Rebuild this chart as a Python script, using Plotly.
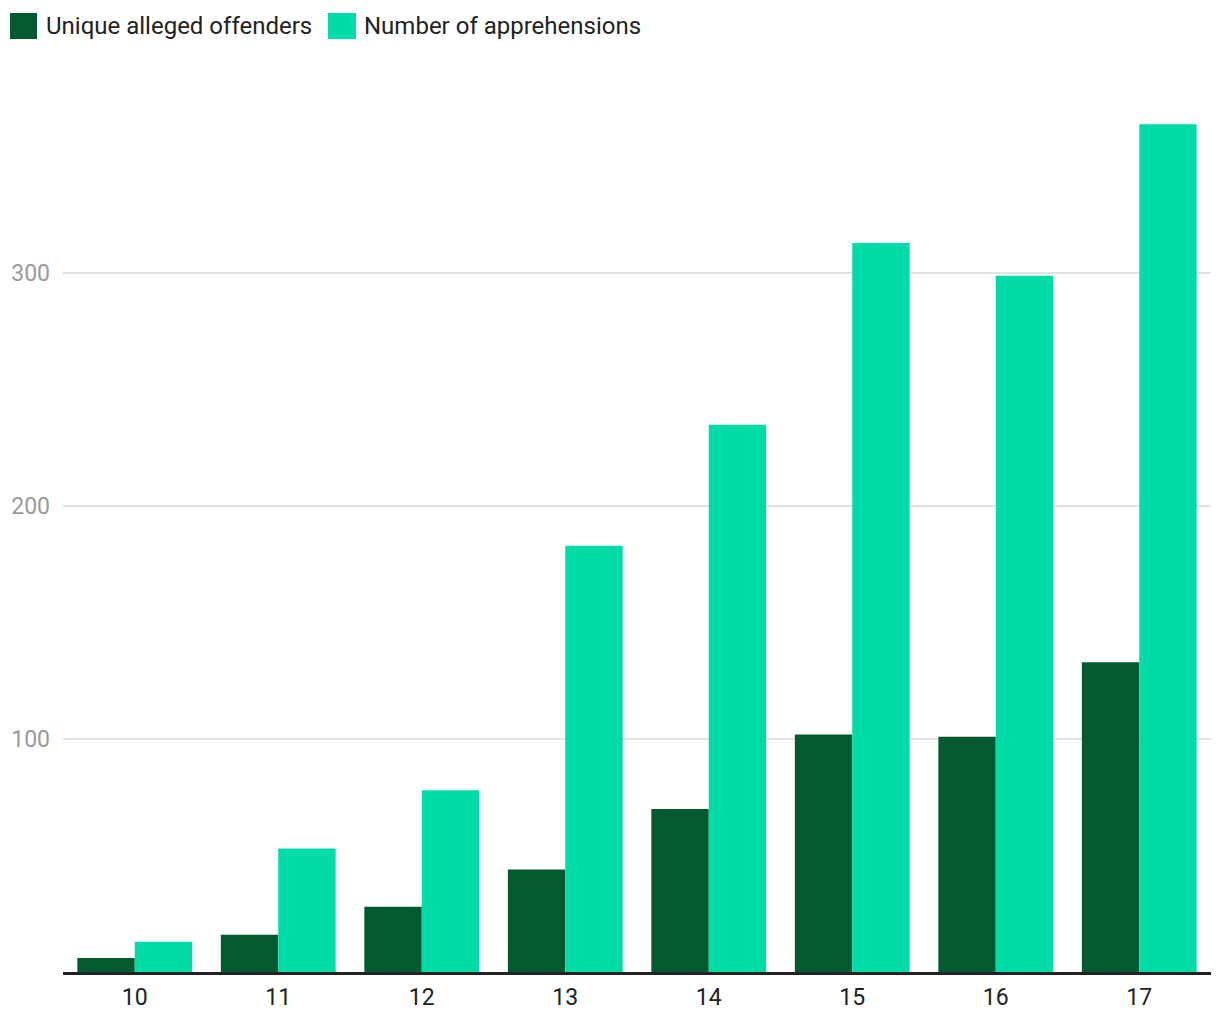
import plotly.graph_objects as go

# Ages and counts
ages = ["10", "11", "12", "13", "14", "15", "16", "17"]
offenders = [6, 16, 28, 44, 70, 102, 101, 133]
apprehensions = [13, 53, 78, 183, 235, 313, 299, 364]
series_names = ["Unique alleged offenders", "Number of apprehensions"]
y_ticks = [100, 200, 300]

DARK = "#035a31"
LIGHT = "#00dca8"

fig = go.Figure()
fig.add_trace(go.Bar(x=ages, y=offenders, name=series_names[0],
                     marker=dict(color=DARK, line=dict(width=0))))
fig.add_trace(go.Bar(x=ages, y=apprehensions, name=series_names[1],
                     marker=dict(color=LIGHT, line=dict(width=0))))

# hand-made legend with larger swatches, placed above the plot area
legend_items = [(series_names[0], DARK, -53, -26, -19),
                (series_names[1], LIGHT, 265, 293, 299)]
for name, color, x0, x1, tx in legend_items:
    fig.add_shape(type="rect", xref="paper", yref="paper",
                  xsizemode="pixel", ysizemode="pixel",
                  xanchor=0, yanchor=1, x0=x0, x1=x1, y0=67, y1=41,
                  fillcolor=color, line=dict(width=0))
    fig.add_annotation(text=name, xref="paper", yref="paper", x=0, y=1,
                       xanchor="left", yanchor="middle", xshift=tx, yshift=54,
                       showarrow=False,
                       font=dict(family="Roboto", size=24, color="#222222"))

fig.update_layout(
    width=1220, height=1020,
    margin=dict(l=63, r=9, t=80, b=48),
    barmode="group", bargap=0.2, bargroupgap=0,
    plot_bgcolor="white", paper_bgcolor="white",
    showlegend=False,
    font=dict(family="Roboto", size=23, color="#222222"),
)
fig.update_xaxes(showgrid=False, showline=True, linecolor="#222222", linewidth=3,
                 ticks="", ticklabelstandoff=2,
                 tickfont=dict(size=23, color="#222222"))
fig.update_yaxes(range=[0, 383], tickvals=y_ticks, showgrid=True,
                 gridcolor="#e3e3e3", gridwidth=2, zeroline=False,
                 ticks="", ticklabelstandoff=12,
                 tickfont=dict(size=23, color="#9a9a9a"))

fig.write_html("out.html", config={"displayModeBar": False},
               post_script="document.body.style.margin='0';")
